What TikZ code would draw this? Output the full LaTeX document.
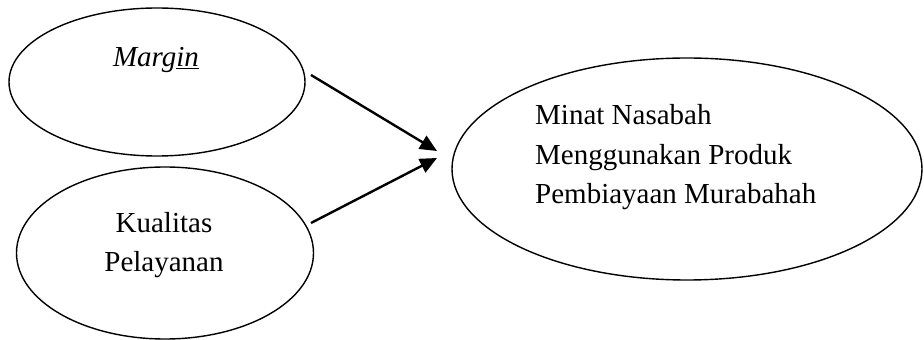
\documentclass[tikz,border=0pt]{standalone}
\usepackage{fontspec}
\setmainfont{Liberation Serif}
\usepackage{tikz}
\usetikzlibrary{arrows.meta,shapes.geometric}

\begin{document}
\begin{tikzpicture}[x=1pt,y=1pt,font=\fontsize{29}{39.5}\selectfont]
\useasboundingbox (0,0) rectangle (924,340);
\begin{scope}[every node/.style={ellipse,draw,line width=1.4pt,inner sep=0pt}]
\node[minimum width=296pt,minimum height=148pt] (Mar) at (157,258) {};
\node[minimum width=297pt,minimum height=172pt] (KP) at (165,87) {};
\node[minimum width=470pt,minimum height=222pt] (MN) at (687,171) {};
\end{scope}

\begin{scope}[every node/.style={inner sep=0pt}]
\node[anchor=base] (Mar-t) at (156,273) {\textit{Marg\underline{in}}};
\node[align=center] (KP-t) at (164,95) {Kualitas\\Pelayanan};
\node[align=left,anchor=base west] (MN-t) at (535,136) {Minat Nasabah\\Menggunakan Produk\\Pembiayaan Murabahah};
\end{scope}

\coordinate (Mar-out) at (311,265);
\coordinate (KP-out) at (311,117);
\coordinate (MN-in1) at (437,189);
\coordinate (MN-in2) at (437,182);

\begin{scope}[>={Triangle[length=17pt,width=15pt]},
every edge/.style={draw,line width=2.4pt}]
\path [->] (Mar-out) edge (MN-in1);
\path [->] (KP-out) edge (MN-in2);
\end{scope}
\end{tikzpicture}
\end{document}
